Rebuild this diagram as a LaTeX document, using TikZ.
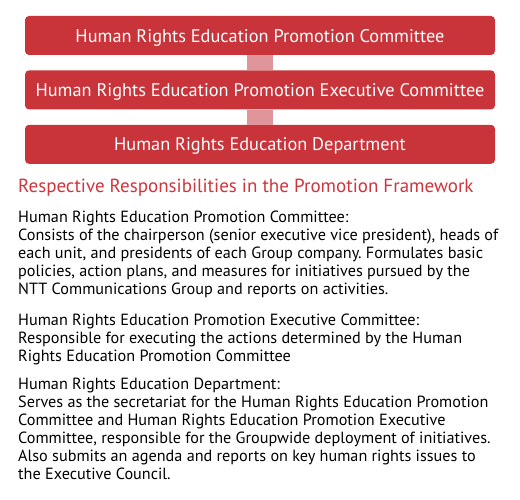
\documentclass[tikz,border=0pt]{standalone}
\usepackage{fontspec}
\setmainfont{PT Sans}
\usetikzlibrary{positioning}
\definecolor{boxred}{HTML}{C9343B}
\definecolor{linkpink}{HTML}{E0959B}
\definecolor{headred}{HTML}{D0343C}
\frenchspacing
\tikzset{
  unit/.style={fill=boxred,rounded corners=4pt,minimum width=470pt,minimum height=39pt,
    text=white,font=\fontsize{18.3}{20}\selectfont,inner sep=0pt,text depth=0pt},
  link/.style={linkpink,line width=26pt},
  para/.style={anchor=north west,align=left,inner sep=0pt,font=\fontsize{16.2}{18}\selectfont}
}
\begin{document}
\begin{tikzpicture}[x=1pt,y=-1pt]
  \useasboundingbox (0,0) rectangle (520,500);
  \node[unit] (a) at (260,35.5) {Human Rights Education Promotion Committee};
  \node[unit,below=15pt of a] (b) {Human Rights Education Promotion Executive Committee};
  \node[unit,below=15pt of b] (c) {Human Rights Education Department};
  \draw[link] (a.south) -- (b.north);
  \draw[link] (b.south) -- (c.north);
  \node[anchor=base west,inner sep=0pt,text=headred,font=\fontsize{19}{22}\selectfont] (h) at (18,193) {Respective Responsibilities in the Promotion Framework};
  \node[para] (p1) at (18,210.3) {Human Rights Education Promotion Committee:\\
    Consists of the chairperson (senior executive vice president), heads of\\
    each unit, and presidents of each Group company. Formulates basic\\
    policies, action plans, and measures for initiatives pursued by the\\
    NTT Communications Group and reports on activities.};
  \node[para] (p2) at (18,313.3) {Human Rights Education Promotion Executive Committee:\\
    Responsible for executing the actions determined by the Human\\
    Rights Education Promotion Committee};
  \node[para] (p3) at (18,378.3) {Human Rights Education Department:\\
    Serves as the secretariat for the Human Rights Education Promotion\\
    Committee and Human Rights Education Promotion Executive\\
    Committee, responsible for the Groupwide deployment of initiatives.\\
    Also submits an agenda and reports on key human rights issues to\\
    the Executive Council.};
\end{tikzpicture}
\end{document}
